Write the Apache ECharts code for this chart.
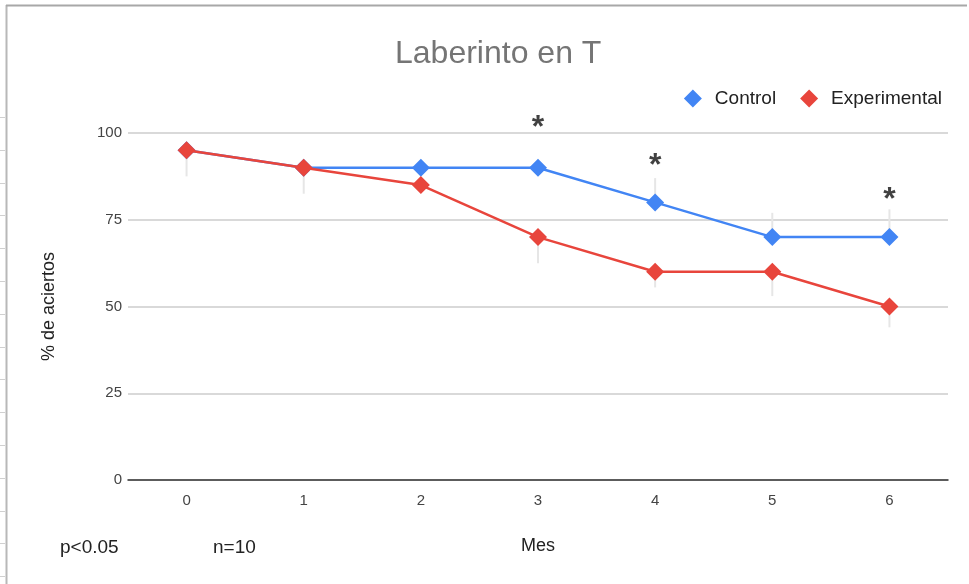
<!DOCTYPE html>
<html>
<head>
<meta charset="utf-8">
<script src="https://cdn.jsdelivr.net/npm/echarts@6/dist/echarts.min.js"></script>
<style>
    html, body { margin: 0; padding: 0; background: #fff; }
    #chart { width: 969px; height: 584px; }
</style>
</head>
<body>
<div id="chart"></div>
<script>
// datos
const meses = ["0", "1", "2", "3", "4", "5", "6"];
const control = [95, 90, 90, 90, 80, 70, 70];
const experimental = [95, 90, 85, 70, 60, 60, 50];
// barras de error visibles: [mes, desde, hasta]
const errores = [
    [0, 95, 87.5],
    [1, 90, 82.5],
    [3, 70, 62.5],
    [4, 87, 80],
    [4, 60, 55.5],
    [5, 77, 70],
    [5, 60, 53],
    [6, 78, 70],
    [6, 50, 44]
];
// asteriscos de significancia: [mes, altura]
const asteriscos = [[3, 101.5], [4, 90.5], [6, 80.5]];
const yTicks = [0, 25, 50, 75, 100];

const chart = echarts.init(document.getElementById("chart"));

// reglita gris del borde izquierdo
let borde = [
    { type: "line", shape: { x1: 6.5, y1: 5, x2: 6.5, y2: 584 }, style: { stroke: "#b8b8b8", lineWidth: 2 } },
    { type: "line", shape: { x1: 6, y1: 5.5, x2: 967, y2: 5.5 }, style: { stroke: "#a8a8a8", lineWidth: 2 } },
    { type: "text", left: 60, top: 538, style: { text: "p<0.05", fontSize: 19, fill: "#222", fontFamily: "Liberation Sans, Arial" } },
    { type: "text", left: 213, top: 538, style: { text: "n=10", fontSize: 19, fill: "#222", fontFamily: "Liberation Sans, Arial" } }
];
for (let y = 117; y < 584; y += 32.8) {
    borde.push({ type: "line", shape: { x1: 0, y1: Math.round(y) + 0.5, x2: 5, y2: Math.round(y) + 0.5 }, style: { stroke: "#d0d0d0", lineWidth: 1 } });
}

const option = {
    backgroundColor: "#fff",
    animation: false,
    textStyle: { fontFamily: "Liberation Sans, Arial, sans-serif" },
    title: {
        text: "Laberinto en T",
        left: 390,
        top: 33,
        textStyle: { fontSize: 32, fontWeight: "normal", color: "#757575" }
    },
    legend: {
        right: 22,
        top: 84,
        itemGap: 24,
        itemWidth: 18,
        itemHeight: 18,
        icon: "diamond",
        textStyle: { fontSize: 19, color: "#222", padding: [0, 0, 0, 8] },
        data: ["Control", "Experimental"]
    },
    grid: { left: 128, right: 21, top: 133, bottom: 104 },
    xAxis: {
        type: "category",
        data: meses,
        boundaryGap: true,
        name: "Mes",
        nameLocation: "middle",
        nameGap: 57,
        nameTextStyle: { fontSize: 18, color: "#222" },
        axisLine: { lineStyle: { color: "#333", width: 1.5 } },
        axisTick: { show: false },
        axisLabel: { fontSize: 15, color: "#444", margin: 13 }
    },
    yAxis: {
        type: "value",
        min: 0,
        max: 100,
        interval: 25,
        name: "% de aciertos",
        nameLocation: "middle",
        nameGap: 70,
        nameTextStyle: { fontSize: 18, color: "#222" },
        axisLine: { show: false },
        axisTick: { show: false },
        axisLabel: { fontSize: 15, color: "#444", margin: 6 },
        splitLine: { lineStyle: { color: "#cccccc", width: 1.5 } }
    },
    graphic: borde,
    series: [
        {
            name: "errores",
            type: "custom",
            silent: true,
            z: 1,
            data: errores,
            renderItem: function(params, api) {
                const a = api.coord([api.value(0), api.value(1)]);
                const b = api.coord([api.value(0), api.value(2)]);
                return {
                    type: "line",
                    shape: { x1: a[0], y1: a[1], x2: b[0], y2: b[1] },
                    style: { stroke: "#e6e6e6", lineWidth: 2 }
                };
            }
        },
        {
            name: "Control",
            type: "line",
            data: control,
            z: 3,
            color: "#4285F4",
            symbol: "diamond",
            symbolSize: 18,
            lineStyle: { width: 2.5 }
        },
        {
            name: "Experimental",
            type: "line",
            data: experimental,
            z: 4,
            color: "#E8453C",
            symbol: "diamond",
            symbolSize: 18,
            lineStyle: { width: 2.5 }
        },
        {
            name: "asteriscos",
            type: "scatter",
            silent: true,
            clip: false,
            data: asteriscos,
            symbolSize: 0,
            label: {
                show: true,
                position: "inside",
                formatter: "*",
                fontSize: 32,
                fontWeight: "bold",
                color: "#111"
            }
        }
    ]
};

chart.setOption(option);
</script>
</body>
</html>
